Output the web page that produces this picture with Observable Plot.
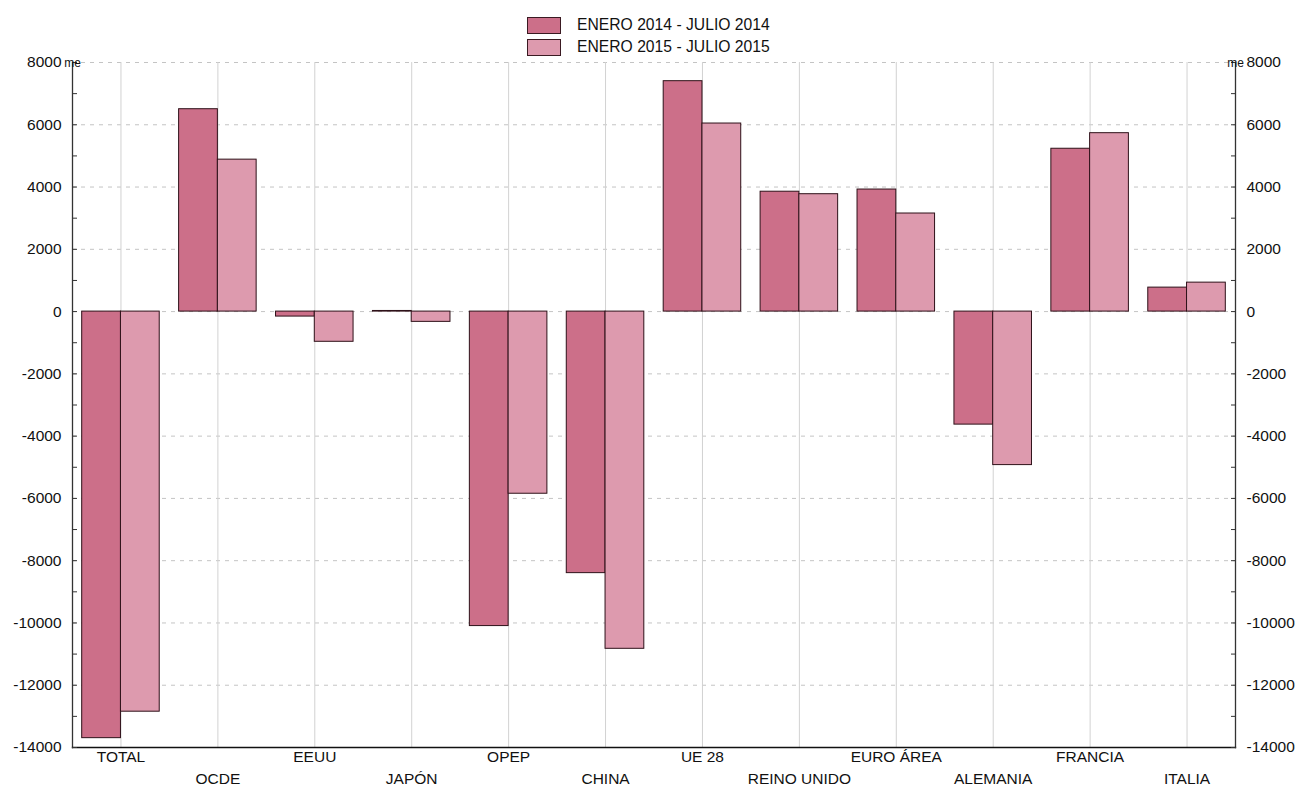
<!DOCTYPE html>
<html>
<head>
<meta charset="utf-8">
<script src="https://cdn.jsdelivr.net/npm/d3@7"></script>
<script src="https://cdn.jsdelivr.net/npm/@observablehq/plot@0.6"></script>
<style>
  body { margin: 0; background: #fff; font-family: "Liberation Sans", Arial, Helvetica, sans-serif; }
  #legend { height: 50px; position: relative; }
  .row { position: absolute; left: 527px; display: flex; align-items: center; font-size: 15.7px; color: #111; }
  .sw { width: 34px; height: 17px; border: 1px solid #3a1a22; margin-right: 16px; box-sizing: border-box; }
</style>
</head>
<body>
<div id="legend"></div>
<div id="chart"></div>
<script>
const categories = ["TOTAL","OCDE","EEUU","JAPÓN","OPEP","CHINA","UE 28","REINO UNIDO","EURO ÁREA","ALEMANIA","FRANCIA","ITALIA"];
const series = ["ENERO 2014 - JULIO 2014","ENERO 2015 - JULIO 2015"];
const values2014 = [-13700, 6500, -160, 20, -10100, -8400, 7400, 3850, 3920, -3630, 5230, 770];
const values2015 = [-12850, 4880, -970, -330, -5850, -10830, 6040, 3770, 3150, -4930, 5730, 930];
const yMajorTicks = d3.range(-14000, 8001, 2000);
const yAllTicks = d3.range(-14000, 8001, 1000);
const unitLabel = "me";
const colors = ["#cc6f89", "#dd9aae"];

const W = 1295, H = 736, mL = 72, mR = 60, mT = 12, mB = 39;
const bw = (W - mL - mR) / categories.length;

const data2014 = categories.map((c, i) => ({cat: c, value: values2014[i], series: series[0]}));
const data2015 = categories.map((c, i) => ({cat: c, value: values2015[i], series: series[1]}));

// legend
const leg = document.getElementById("legend");
series.forEach((s, i) => {
  const r = document.createElement("div");
  r.className = "row";
  r.style.top = (16 + i * 22) + "px";
  r.innerHTML = `<div class="sw" style="background:${colors[i]}"></div><span>${s}</span>`;
  leg.appendChild(r);
});

const evenCats = categories.filter((c, i) => i % 2 === 0);
const oddCats = categories.filter((c, i) => i % 2 === 1);

const chart = Plot.plot({
  width: W, height: H,
  marginLeft: mL, marginRight: mR, marginTop: mT, marginBottom: mB,
  style: {fontFamily: '"Liberation Sans", Arial, Helvetica, sans-serif', fontSize: "15.5px", color: "#111"},
  x: {domain: categories, padding: 0, round: false, axis: null, label: null},
  y: {domain: [-14000, 8000], axis: null, label: null},
  marks: [
    Plot.gridY(yMajorTicks, {stroke: "#c4c4c4", strokeOpacity: 1, strokeDasharray: "4,5"}),
    Plot.gridX({stroke: "#d2d2d2", strokeOpacity: 1}),
    Plot.barY(data2014, {x: "cat", y: "value", fill: colors[0], stroke: "#2e1119", strokeWidth: 1, insetLeft: bw * 0.1, insetRight: bw / 2}),
    Plot.barY(data2015, {x: "cat", y: "value", fill: colors[1], stroke: "#2e1119", strokeWidth: 1, insetLeft: bw / 2, insetRight: bw * 0.1}),
    Plot.frame({anchor: "left", stroke: "#333", strokeWidth: 1.3}),
    Plot.frame({anchor: "right", stroke: "#333", strokeWidth: 1.3}),
    Plot.frame({anchor: "bottom", stroke: "#111", strokeWidth: 1.3}),
    Plot.axisY({anchor: "left", label: null, ticks: yAllTicks, tickSize: -5, tickPadding: 16, stroke: "#333",
      tickFormat: d => d % 2000 === 0 ? String(d) : ""}),
    Plot.axisY({anchor: "right", label: null, ticks: yAllTicks, tickSize: -5, tickPadding: 16, stroke: "#333",
      tickFormat: d => d % 2000 === 0 ? String(d) : ""}),
    Plot.axisX({anchor: "bottom", label: null, ticks: evenCats, tickSize: 0, tickPadding: 3}),
    Plot.axisX({anchor: "bottom", label: null, ticks: oddCats, tickSize: 0, tickPadding: 25}),
    Plot.text([unitLabel], {text: d => d, frameAnchor: "top-left", textAnchor: "middle", dy: -4, fontSize: 12}),
    Plot.text([unitLabel], {text: d => d, frameAnchor: "top-right", textAnchor: "middle", dy: -4, fontSize: 12})
  ]
});
document.getElementById("chart").appendChild(chart);
</script>
</body>
</html>
